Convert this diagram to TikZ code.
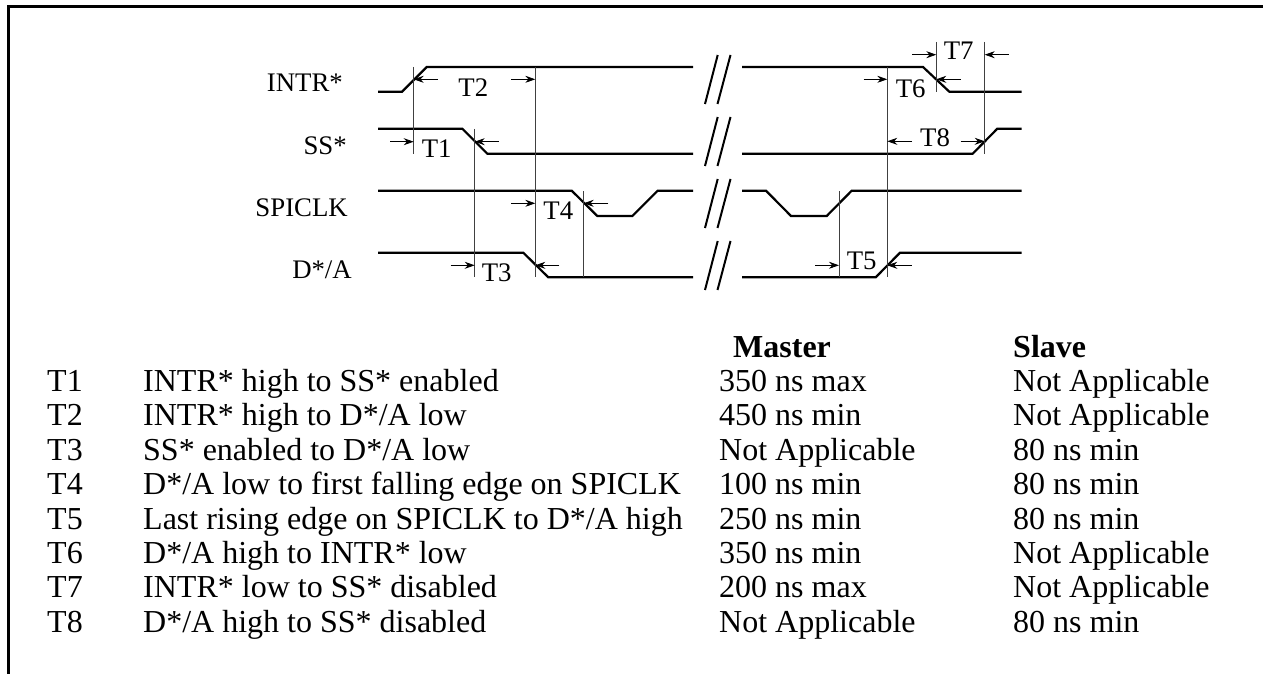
\documentclass[tikz,border=0pt]{standalone}
\usepackage{fontspec}
\setmainfont{Liberation Serif}
\usetikzlibrary{positioning,arrows.meta}

\tikzset{
    wave/.style={line width=2.2pt},
    vline/.style={line width=0.8pt, black!75},
    dim/.style={line width=0.8pt, -{Stealth[length=10pt,width=7pt]}},
    brk/.style={line width=2pt},
    txt/.style={inner sep=0pt, font=\fontsize{26.8}{30}\selectfont},
    cell/.style={inner sep=0pt, anchor=base west, font=\fontsize{32}{34}\selectfont},
    headcell/.style={cell, font=\fontsize{32}{34}\selectfont\bfseries},
    siglabel/.style={txt, anchor=base east}
}

\begin{document}
\begin{tikzpicture}[x=1pt, y=-1pt]

    \useasboundingbox (0,0) rectangle (1263,674);

    % frame
    \coordinate (ftl) at (8.5,6.5);
    \coordinate (ftr) at (1263,6.5);
    \coordinate (fbl) at (8.5,674);
    \draw[line width=3pt] (ftr) -- (ftl) -- (fbl);

    % signal names
    \node[siglabel] (intr)   at (343,91.7) {INTR*};
    \node[siglabel] (ss)     at (347,154)  {SS*};
    \node[siglabel] (spiclk) at (348,216)  {SPICLK};
    \node[siglabel] (da)     at (352,278.3) {D*/A};

    % waveforms
    \draw[wave] (378,91.7) -- (402,91.7) -- (426.7,67) -- (693,67);
    \draw[wave] (742,67) -- (923,67) -- (949.3,91.7) -- (1021.5,91.7);
    \draw[wave] (378,128.7) -- (462.3,128.7) -- (487.3,153.7) -- (693,153.7);
    \draw[wave] (742,153.7) -- (972.7,153.7) -- (997.3,128.7) -- (1021.5,128.7);
    \draw[wave] (378,190.7) -- (571.7,190.7) -- (597.3,216) -- (632.3,216) -- (657.7,190.7) -- (693,190.7);
    \draw[wave] (742,190.7) -- (766,190.7) -- (791,216) -- (826.7,216) -- (851.7,190.7) -- (1021.5,190.7);
    \draw[wave] (378,252.7) -- (523.3,252.7) -- (548.3,277.3) -- (693,277.3);
    \draw[wave] (742,277.3) -- (875.7,277.3) -- (900,252.7) -- (1021.5,252.7);

    % breaks
    \foreach \y in {0,62,124,186} {
        \draw[brk] (705,104+\y) -- (717.7,55+\y);
        \draw[brk] (717.5,104+\y) -- (730.5,55+\y);
    }

    % reference lines
    \coordinate (v1) at (413.7,67);
    \coordinate (v2) at (474.7,129);
    \coordinate (v3) at (535.3,67);
    \coordinate (v4) at (583.7,191);
    \coordinate (v5) at (839,191);
    \coordinate (v6) at (887.3,67);
    \coordinate (v7) at (936.3,42);
    \coordinate (v8) at (984.7,42);
    \draw[vline] (v1) -- (413.7,153.7);
    \draw[vline] (v2) -- (474.7,277.3);
    \draw[vline] (v3) -- (535.3,277.3);
    \draw[vline] (v4) -- (583.7,277.3);
    \draw[vline] (v5) -- (839,277.3);
    \draw[vline] (v6) -- (887.3,277.3);
    \draw[vline] (v7) -- (936.3,91.7);
    \draw[vline] (v8) -- (984.7,153.7);

    % free ends of the timing arrows
    \coordinate (t1a) at (390,141.7);
    \coordinate (t1b) at (498.7,141.7);
    \coordinate (t2a) at (438,79.3);
    \coordinate (t2b) at (511.3,79.3);
    \coordinate (t3a) at (450.7,265.3);
    \coordinate (t3b) at (559.3,265.3);
    \coordinate (t4a) at (511.3,203.3);
    \coordinate (t4b) at (608.3,203.3);
    \coordinate (t5a) at (815,265.3);
    \coordinate (t5b) at (911.7,265.3);
    \coordinate (t6a) at (863.7,79.3);
    \coordinate (t6b) at (960.7,79.3);
    \coordinate (t7a) at (912.3,54.7);
    \coordinate (t7b) at (1008.7,54.7);
    \coordinate (t8a) at (912,141.3);
    \coordinate (t8b) at (960.7,141.3);

    \draw[dim] (t1a) -- (t1a -| v1);
    \draw[dim] (t1b) -- (t1b -| v2);
    \draw[dim] (t2a) -- (t2a -| v1);
    \draw[dim] (t2b) -- (t2b -| v3);
    \draw[dim] (t3a) -- (t3a -| v2);
    \draw[dim] (t3b) -- (t3b -| v3);
    \draw[dim] (t4a) -- (t4a -| v3);
    \draw[dim] (t4b) -- (t4b -| v4);
    \draw[dim] (t5a) -- (t5a -| v5);
    \draw[dim] (t5b) -- (t5b -| v6);
    \draw[dim] (t6a) -- (t6a -| v6);
    \draw[dim] (t6b) -- (t6b -| v7);
    \draw[dim] (t7a) -- (t7a -| v7);
    \draw[dim] (t7b) -- (t7b -| v8);
    \draw[dim] (t8a) -- (t8a -| v6);
    \draw[dim] (t8b) -- (t8b -| v8);

    % timing labels
    \node[txt] (lt1) at (436.7,149)   {T1};
    \node[txt] (lt2) at (473.3,87.7)  {T2};
    \node[txt] (lt3) at (496.7,272.3) {T3};
    \node[txt] (lt4) at (558.3,210.7) {T4};
    \node[txt] (lt5) at (861.7,260.7) {T5};
    \node[txt] (lt6) at (910.7,88.3)  {T6};
    \node[txt] (lt7) at (958.7,50.7)  {T7};
    \node[txt] (lt8) at (935,137.3)   {T8};

    % table
    \node[headcell] (master) at (733,357) {Master};
    \node[headcell] (slave)  at (1013,357) {Slave};

    \foreach \n/\t/\d/\m/\s [count=\i from 0] in {
        1/T1/{INTR* high to SS* enabled}/{350 ns max}/{Not Applicable},
        2/T2/{INTR* high to D*/A low}/{450 ns min}/{Not Applicable},
        3/T3/{SS* enabled to D*/A low}/{Not Applicable}/{80 ns min},
        4/T4/{D*/A low to first falling edge on SPICLK}/{100 ns min}/{80 ns min},
        5/T5/{Last rising edge on SPICLK to D*/A high}/{250 ns min}/{80 ns min},
        6/T6/{D*/A high to INTR* low}/{350 ns min}/{Not Applicable},
        7/T7/{INTR* low to SS* disabled}/{200 ns max}/{Not Applicable},
        8/T8/{D*/A high to SS* disabled}/{Not Applicable}/{80 ns min}} {
        \node[cell] (name\n) at (47,391.5+34.4*\i)   {\t};
        \node[cell] (desc\n) at (143,391.5+34.4*\i)  {\d};
        \node[cell] (mast\n) at (719,391.5+34.4*\i)  {\m};
        \node[cell] (slav\n) at (1013,391.5+34.4*\i) {\s};
    }

\end{tikzpicture}
\end{document}
